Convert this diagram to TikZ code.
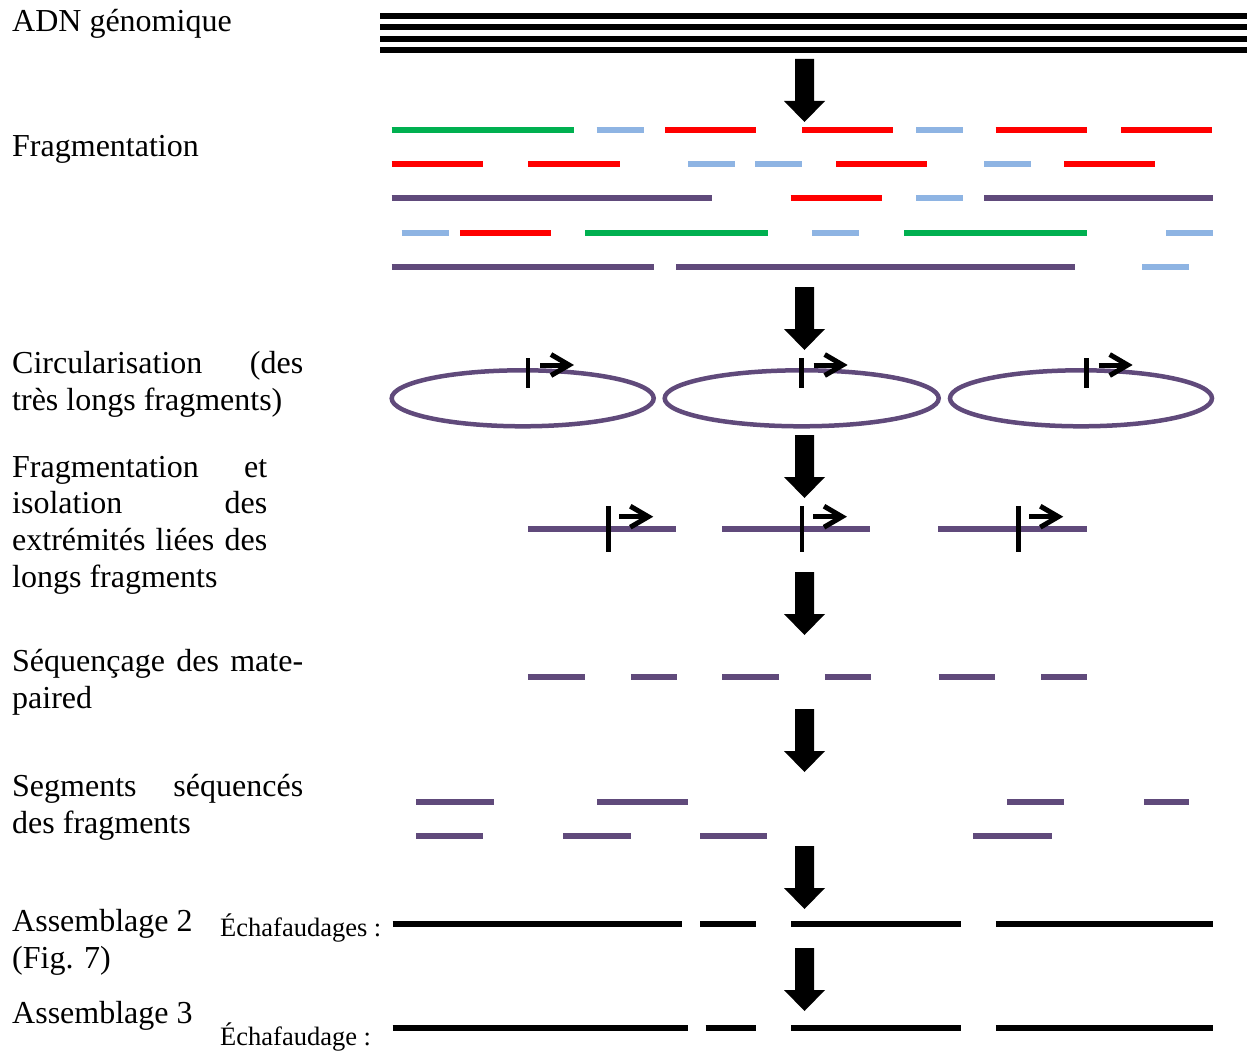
\documentclass[tikz,border=0pt]{standalone}
\usepackage{fontspec}
\setmainfont{Liberation Serif}
\definecolor{fgreen}{RGB}{0,176,80}
\definecolor{fblue}{RGB}{142,180,227}
\definecolor{fred}{RGB}{255,0,0}
\definecolor{fpurple}{RGB}{96,74,123}
\begin{document}
\begin{tikzpicture}[x=1pt,y=-1pt,
  lbl/.style={anchor=base west, inner sep=0pt, font=\fontsize{32}{37}\selectfont},
  scaf/.style={anchor=base west, inner sep=0pt, font=\fontsize{26.5}{30}\selectfont},
  seg/.style={line width=6pt},
  ring/.style={fpurple, line width=4.5pt},
  tickmark/.style={line width=4.5pt},
  chevron/.style={line width=5pt, line join=miter},
  bigarrow/.pic={\fill (-9.5,0) -- (9.5,0) -- (9.5,42) -- (20.5,42) -- (0,63)
                   -- (-20.5,42) -- (-9.5,42) -- cycle;},
  orient/.pic={\draw[chevron] (0,0) -- (29,0);
               \draw[chevron] (11,-10.5) -- (29,0) -- (11,10.5);}
]
\useasboundingbox (0,0) rectangle (1253,1051);

% ---- stage labels ----
\node[lbl] (adn)  at (12,32)   {ADN génomique};
\node[lbl] (frag) at (12,157)  {Fragmentation};
\node[lbl] (circ1) at (12,373) {\makebox[291pt][s]{Circularisation (des}};
\node[lbl] (circ2) at (12,410) {très longs fragments)};
\node[lbl] (iso1) at (12,477)  {\makebox[255pt][s]{Fragmentation et}};
\node[lbl] (iso2) at (12,513)  {\makebox[255pt][s]{isolation des}};
\node[lbl] (iso3) at (12,550)  {\makebox[255pt][s]{extrémités liées des}};
\node[lbl] (iso4) at (12,587)  {longs fragments};
\node[lbl] (seq1) at (12,671)  {\makebox[291pt][s]{Séquençage des mate-}};
\node[lbl] (seq2) at (12,708)  {paired};
\node[lbl] (seg1) at (12,796)  {\makebox[291pt][s]{Segments séquencés}};
\node[lbl] (seg2) at (12,833)  {des fragments};
\node[lbl] (asA1) at (12,931)  {Assemblage 2};
\node[lbl] (asA2) at (12,968)  {(Fig. 7)};
\node[lbl] (asB)  at (12,1023) {Assemblage 3};
\node[scaf] (scA) at (220,936)  {Échafaudages :};
\node[scaf] (scB) at (220,1045) {Échafaudage :};

% ---- genomic DNA ----
\foreach \y in {16,27.5,39,50.5}
  \draw[seg] (380,\y) -- (1247,\y);

% ---- stage arrows ----
\foreach \t in {59,287,435,572,709,846,948}
  \pic at (804.5,\t) {bigarrow};

% ---- fragmentation ----
\foreach \a/\b/\c in {391.7/574/fgreen, 596.7/643.7/fblue, 665/756.3/fred,
    802/893/fred, 916/962.7/fblue, 995.7/1086.7/fred, 1121/1212/fred}
  \draw[seg,\c] (\a,130) -- (\b,130);
\foreach \a/\b/\c in {391.7/482.7/fred, 528.3/619.7/fred, 688/734.7/fblue,
    755/801.7/fblue, 836/927/fred, 984.3/1031/fblue, 1064/1155/fred}
  \draw[seg,\c] (\a,164.3) -- (\b,164.3);
\foreach \a/\b/\c in {391.7/712/fpurple, 790.7/881.7/fred, 916/962.7/fblue,
    984.3/1213.3/fpurple}
  \draw[seg,\c] (\a,198.3) -- (\b,198.3);
\foreach \a/\b/\c in {401.7/448.7/fblue, 460/551/fred, 585.3/767.7/fgreen,
    812/859/fblue, 904.3/1086.7/fgreen, 1166.3/1213.3/fblue}
  \draw[seg,\c] (\a,232.7) -- (\b,232.7);
\foreach \a/\b/\c in {391.7/653.7/fpurple, 676.3/1075.3/fpurple, 1142.3/1189.3/fblue}
  \draw[seg,\c] (\a,266.7) -- (\b,266.7);

% ---- circularised fragments ----
\foreach \cx/\rx/\tx in {522.7/131/528, 801.7/137/801.7, 1081/131/1086.7} {
  \draw[ring] (\cx,398.3) ellipse [x radius=\rx, y radius=28];
  \draw[tickmark] (\tx,358.3) -- (\tx,387.7);
  \pic at (\tx+12,365) {orient};
}

% ---- linked ends ----
\foreach \a/\b/\tx in {528.3/676/608.3, 722.3/870/802, 938.3/1086.7/1018.3} {
  \draw[seg,fpurple] (\a,529) -- (\b,529);
  \draw[tickmark] (\tx,506) -- (\tx,551.7);
  \pic at (\tx+11,516.7) {orient};
}

% ---- mate-paired reads ----
\foreach \a/\b in {527.9/585, 630.9/676.8, 722/779, 824.9/870.5, 938.6/995.2, 1041/1086.7}
  \draw[seg,fpurple] (\a,677.3) -- (\b,677.3);

% ---- sequenced segments ----
\foreach \a/\b in {416.2/494.1, 597.2/688.2, 1007.2/1064.2, 1144.2/1188.7}
  \draw[seg,fpurple] (\a,802.3) -- (\b,802.3);
\foreach \a/\b in {416.2/483.2, 563.2/631.2, 700.2/767.2, 973.2/1052.2}
  \draw[seg,fpurple] (\a,836.3) -- (\b,836.3);

% ---- scaffolds ----
\foreach \a/\b in {392.7/682.2, 700.3/756, 791/961, 995.8/1212.8}
  \draw[line width=5.5pt] (\a,924) -- (\b,924);
\foreach \a/\b in {392.7/688.2, 705.7/756, 791/961, 995.8/1212.8}
  \draw[line width=5.5pt] (\a,1028) -- (\b,1028);
\end{tikzpicture}
\end{document}
